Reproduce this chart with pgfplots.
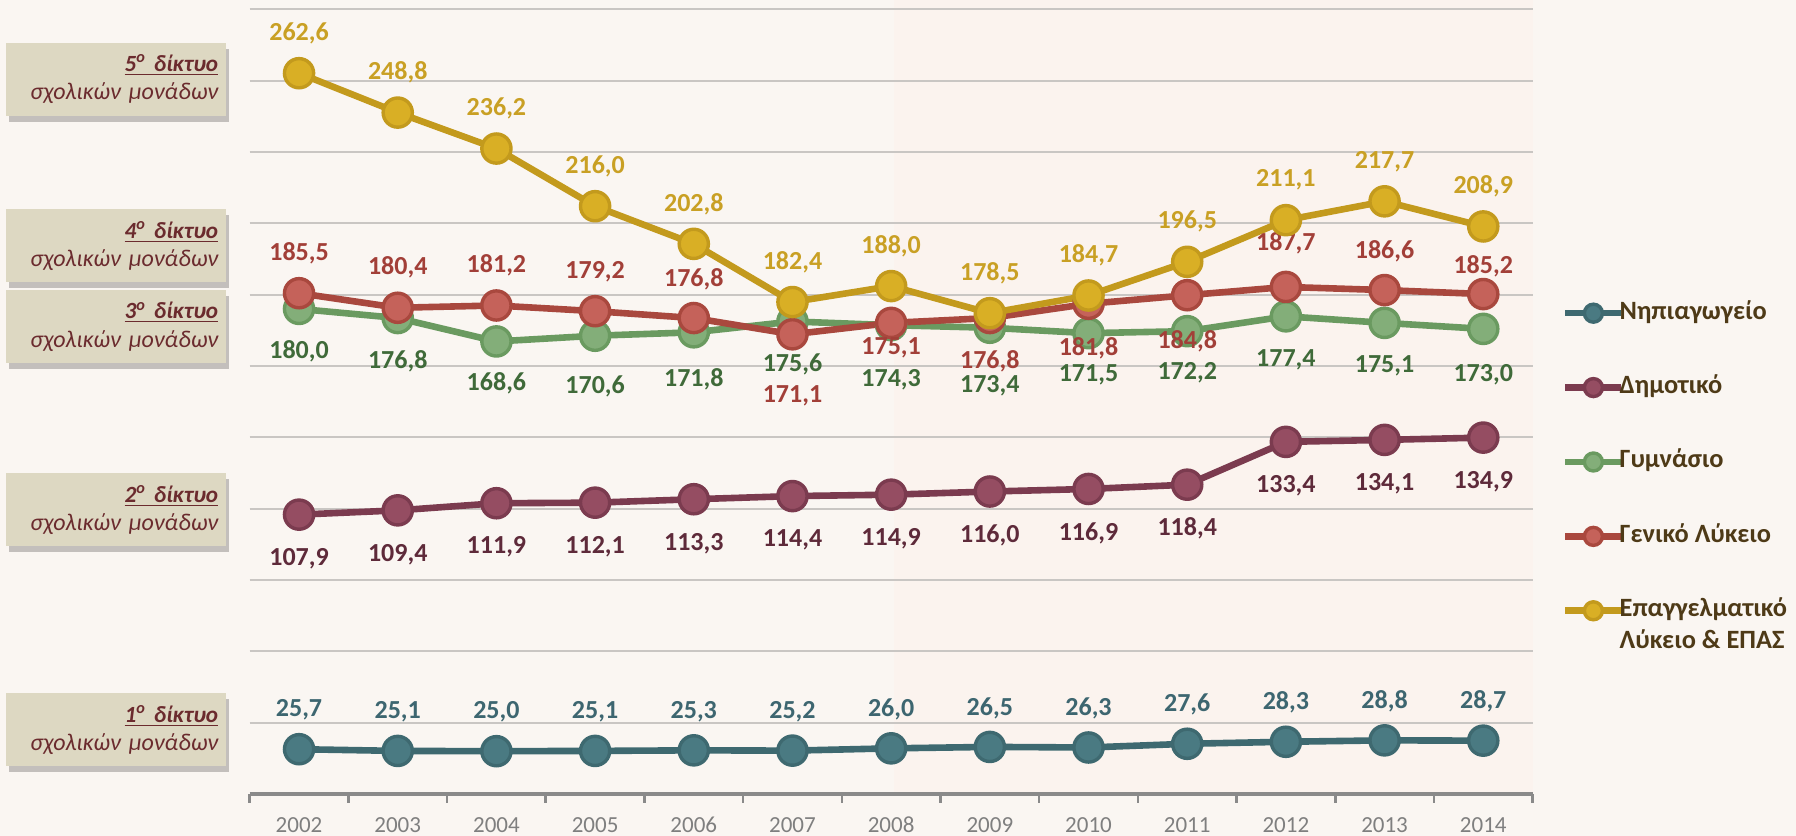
\documentclass[border=0pt]{standalone}
\usepackage{pgfplots}
\pgfplotsset{compat=1.18}
\usepackage{pgfplotstable}
\usepackage{fontspec}
\setmainfont{Carlito}
\usetikzlibrary{shadows}

\definecolor{bgcol}{HTML}{FAF6F2}
\definecolor{shadecol}{HTML}{FBF3EE}
\definecolor{gridcol}{HTML}{C9C6C3}
\definecolor{axiscol}{HTML}{8A8A8A}
\definecolor{ticklab}{HTML}{7F7F7F}
\definecolor{boxfill}{HTML}{DDD8C2}
\definecolor{boxtext}{HTML}{6B2B2E}
\definecolor{legtext}{HTML}{4E3A17}
\definecolor{tealline}{HTML}{3E6970}
\definecolor{tealfill}{HTML}{4A7A82}
\definecolor{teallab}{HTML}{3D6670}
\definecolor{marline}{HTML}{7B3B4F}
\definecolor{marfill}{HTML}{954D62}
\definecolor{marlab}{HTML}{5E2A3A}
\definecolor{grnline}{HTML}{6A9A60}
\definecolor{grnfill}{HTML}{83AE79}
\definecolor{grnlab}{HTML}{3F6A39}
\definecolor{redline}{HTML}{A9483E}
\definecolor{redfill}{HTML}{C5625A}
\definecolor{redlab}{HTML}{A23F38}
\definecolor{yelline}{HTML}{C39A1D}
\definecolor{yelfill}{HTML}{D9AF25}
\definecolor{yellab}{HTML}{C9A024}

\pgfplotstableread{
x y dy
0 25.7 19.5
1 25.1 19.5
2 25.0 19.5
3 25.1 19.5
4 25.3 19.5
5 25.2 19.5
6 26.0 19.5
7 26.5 19.5
8 26.3 19.5
9 27.6 19.5
10 28.3 19.5
11 28.8 19.5
12 28.7 19.5
}\tabN
\pgfplotstableread{
x y dy
0 107.9 -22
1 109.4 -22
2 111.9 -22
3 112.1 -22
4 113.3 -22
5 114.4 -22
6 114.9 -22
7 116.0 -22
8 116.9 -22
9 118.4 -22
10 133.4 -22
11 134.1 -22
12 134.9 -22
}\tabD
\pgfplotstableread{
x y dy
0 180.0 -21.4
1 176.8 -21.4
2 168.6 -21
3 170.6 -25.5
4 171.8 -23.3
5 175.6 -21.4
6 174.3 -27.4
7 173.4 -29.1
8 171.5 -20.9
9 172.2 -21
10 177.4 -21.9
11 175.1 -21.7
12 173.0 -22.9
}\tabG
\pgfplotstableread{
x y dy
0 185.5 20
1 180.4 20
2 181.2 20
3 179.2 19.8
4 176.8 19.2
5 171.1 -30.8
6 175.1 -12.7
7 176.8 -21.4
8 181.8 -22.3
9 184.8 -23.2
10 187.7 22
11 186.6 19.4
12 185.2 13.9
}\tabL
\pgfplotstableread{
x y dy
0 262.6 20
1 248.8 20
2 236.2 20
3 216.0 20
4 202.8 20
5 182.4 20
6 188.0 20
7 178.5 20
8 184.7 20
9 196.5 20
10 211.1 20
11 217.7 20
12 208.9 20
}\tabE

\pgfplotsset{
  ser/.style n args={3}{
    color=#1, line width=3.3pt, mark=*, mark size=7.3pt,
    mark options={solid, fill=#2, draw=#1, line width=1.7pt},
    point meta=y,
    nodes near coords={\pgfmathprintnumber[fixed,fixed zerofill,precision=1,use comma,assume math mode=true]{\pgfplotspointmeta}},
    visualization depends on={\thisrow{dy} \as \labdy},
    nodes near coords style={text=#3, anchor=center, yshift=\labdy pt, inner sep=0pt, font=\fontsize{13}{15}\selectfont\bfseries},
  }
}

\tikzset{netbox/.style={rectangle, fill=boxfill, minimum width=110pt, minimum height=36.5pt,
  text width=102.5pt, align=right, inner xsep=3.75pt, inner ysep=0pt,
  font=\fontsize{12}{14.2}\selectfont\itshape, text=boxtext,
  drop shadow={shadow xshift=1.5pt, shadow yshift=-3pt, opacity=0.22, fill=black}}}
\newcommand\net[1]{{\fontsize{11.6}{14.2}\selectfont\textbf{\underline{#1}}}}

\begin{document}
\begin{tikzpicture}
\fill[bgcol] (-124.85pt,-21pt) rectangle (773.15pt,397pt);
\fill[shadecol] (322.2pt,0pt) rectangle (641.45pt,397pt);
\begin{axis}[
  at={(0pt,0pt)}, anchor=south west,
  scale only axis, width=641.45pt, height=392.35pt,
  xmin=-0.5, xmax=12.5, ymin=10, ymax=285,
  clip=false,
  axis x line=bottom, axis y line=left,
  x axis line style={-, draw=axiscol, line width=1.6pt},
  y axis line style={draw=none},
  xtick={0,...,12},
  xticklabels={2002,2003,2004,2005,2006,2007,2008,2009,2010,2011,2012,2013,2014},
  minor xtick={-0.5,0.5,...,12.5},
  major tick length=0pt, minor tick length=4.3pt, tick align=outside,
  minor tick style={draw=axiscol, line width=1.3pt},
  ytick={35,60,...,285}, yticklabels={},
  ymajorgrids, major grid style={draw=gridcol, line width=1pt},
  xticklabel style={font=\fontsize{11.5}{13}\selectfont, text=ticklab, anchor=center, yshift=-15.5pt},
  legend style={at={(1.023,0.6293)}, anchor=north west, draw=none, fill=none,
    inner sep=0pt, outer sep=0pt, row sep=24.2pt, column sep=-2.5pt,
    font=\fontsize{13.2}{15.8}\selectfont\bfseries, text=legtext,
    nodes={inner sep=0pt, text height=9.5pt, text depth=3.5pt}},
  legend cell align=left,
  legend image code/.code={
    \draw[mark repeat=2, mark phase=2, #1, mark size=4.5pt] plot coordinates {(0pt,0pt) (14pt,0pt) (28pt,0pt)};
  },
]
\addplot[ser={tealline}{tealfill}{teallab}] table[x=x,y=y]{\tabN};
\addlegendentry{Νηπιαγωγείο}
\addplot[ser={marline}{marfill}{marlab}] table[x=x,y=y]{\tabD};
\addlegendentry{Δημοτικό}
\addplot[ser={grnline}{grnfill}{grnlab}] table[x=x,y=y]{\tabG};
\addlegendentry{Γυμνάσιο}
\addplot[ser={redline}{redfill}{redlab}] table[x=x,y=y]{\tabL};
\addlegendentry{Γενικό Λύκειο}
\addplot[ser={yelline}{yelfill}{yellab}] table[x=x,y=y]{\tabE};
\addlegendentry{\vtop{\baselineskip=15.8pt\hbox{Επαγγελματικό}\hbox{Λύκειο \& ΕΠΑΣ}}}
\end{axis}
\node[netbox] at (-67pt,357.3pt) {\net{5\textsuperscript{ο}\hspace{0.35em}δίκτυο}\\σχολικών μονάδων};
\node[netbox] at (-67pt,274pt) {\net{4\textsuperscript{ο} δίκτυο}\\σχολικών μονάδων};
\node[netbox] at (-67pt,233.7pt) {\net{3\textsuperscript{ο} δίκτυο}\\σχολικών μονάδων};
\node[netbox] at (-67pt,142pt) {\net{2\textsuperscript{ο} δίκτυο}\\σχολικών μονάδων};
\node[netbox] at (-67pt,32pt) {\net{1\textsuperscript{ο} δίκτυο}\\σχολικών μονάδων};
\pgfresetboundingbox
\path[use as bounding box] (-124.85pt,-21pt) rectangle (773.15pt,397pt);
\end{tikzpicture}
\end{document}
